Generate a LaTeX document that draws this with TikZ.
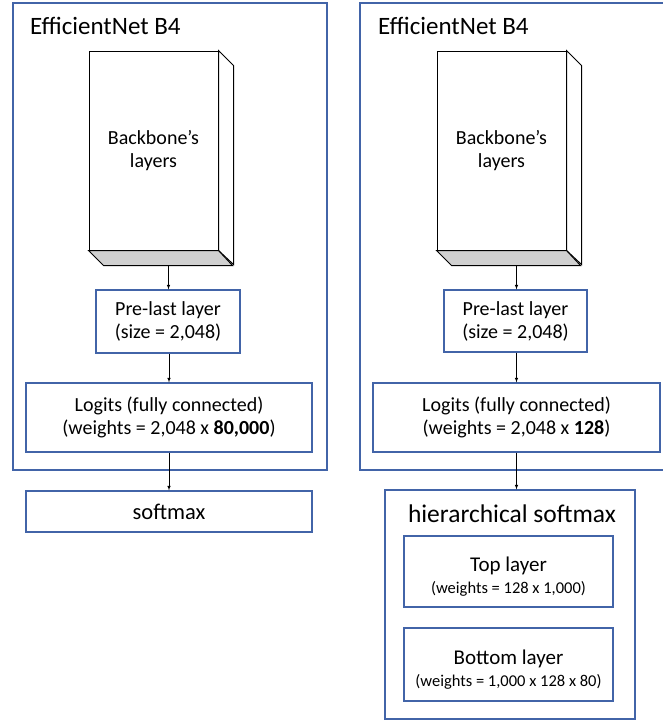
\documentclass[tikz,border=0pt]{standalone}
\usepackage{fontspec}
\setmainfont{Carlito}
\usetikzlibrary{calc}

\definecolor{boxblue}{RGB}{66,100,168}
\definecolor{facegray}{RGB}{208,208,208}

\tikzset{
  frame/.style={draw=boxblue, line width=1.2pt},
  layerbox/.style={draw=boxblue, line width=1.2pt, align=center, inner sep=0pt,
    font=\fontsize{20}{23}\selectfont},
  smallbox/.style={draw=boxblue, line width=1.2pt, align=center, inner sep=0pt,
    font=\fontsize{21}{25}\selectfont},
  cube/.style={draw, line width=1pt, fill=white, align=center, inner sep=0pt,
    minimum width=129pt, minimum height=199pt, font=\fontsize{20}{23}\selectfont},
  title/.style={anchor=base west, inner sep=0pt, font=\fontsize{25}{29}\selectfont},
  link/.style={->, line width=0.6pt},
}
\newcommand{\wts}[1]{{\fontsize{16.5}{19}\selectfont #1}}

\begin{document}
\begin{tikzpicture}[>=latex, x=1pt, y=-1pt]
\useasboundingbox (0,0) rectangle (662,720);

% left network
\draw[frame] (13,3) rectangle (327,470);
\node[title] (titL) at (30,34) {EfficientNet B4};

\node[cube] (bbL) at (153.5,150.5) {Backbone’s\\layers};
\draw[line width=1pt, fill=white] (bbL.north east) -- ++(15,15) -- ++(0,199) -- (bbL.south east) -- cycle;
\draw[line width=1pt, fill=facegray] (bbL.south west) -- ++(15,15) -- ++(129,0) -- (bbL.south east) -- cycle;
\coordinate (bbLb) at ($(bbL.south)+(15,15)$);

\node[layerbox, minimum width=144pt, minimum height=63pt] (preL) at (168,321.5)
  {Pre-last layer\\(size = 2,048)};
\node[layerbox, minimum width=286pt, minimum height=69pt] (logL) at (169,417.5)
  {Logits (fully connected)\\(weights = 2,048 x \textbf{80,000})};
\node[layerbox, minimum width=286pt, minimum height=41pt, font=\fontsize{22.5}{26}\selectfont]
  (softL) at (169,511.5) {softmax};

\draw[link] (bbLb) -- (bbLb |- preL.north);
\draw[link] (logL.north |- preL.south) -- (logL.north);
\draw[link] (logL.south) -- (softL.north);

% right network
\draw[frame] (360,3) rectangle (664,470);
\node[title] (titR) at (378,34) {EfficientNet B4};

\node[cube] (bbR) at (501.5,150.5) {Backbone’s\\layers};
\draw[line width=1pt, fill=white] (bbR.north east) -- ++(15,15) -- ++(0,199) -- (bbR.south east) -- cycle;
\draw[line width=1pt, fill=facegray] (bbR.south west) -- ++(15,15) -- ++(129,0) -- (bbR.south east) -- cycle;
\coordinate (bbRb) at ($(bbR.south)+(15,15)$);

\node[layerbox, minimum width=143pt, minimum height=62pt] (preR) at (515.5,321)
  {Pre-last layer\\(size = 2,048)};
\node[layerbox, minimum width=287pt, minimum height=69pt] (logR) at (516.5,417.5)
  {Logits (fully connected)\\(weights = 2,048 x \textbf{128})};

\node[smallbox, minimum width=250pt, minimum height=229pt] (hier) at (510,604.5) {};
\node[anchor=base, inner sep=0pt, font=\fontsize{25.5}{30}\selectfont] (hierT) at (512,522)
  {hierarchical softmax};
\node[smallbox, minimum width=209pt, minimum height=71pt] (top) at (508.5,571.5)
  {\rule{0pt}{24pt}Top layer\\[-3pt]\wts{(weights = 128 x 1,000)}};
\node[smallbox, minimum width=209pt, minimum height=73pt] (bot) at (508.5,664.5)
  {\rule{0pt}{24pt}Bottom layer\\[-3pt]\wts{(weights = 1,000 x 128 x 80)}};

\draw[link] (bbRb) -- (bbRb |- preR.north);
\draw[link] (bbRb |- preR.south) -- (bbRb |- logR.north);
\draw[link] (bbRb |- logR.south) -- (bbRb |- hier.north);

\end{tikzpicture}
\end{document}
